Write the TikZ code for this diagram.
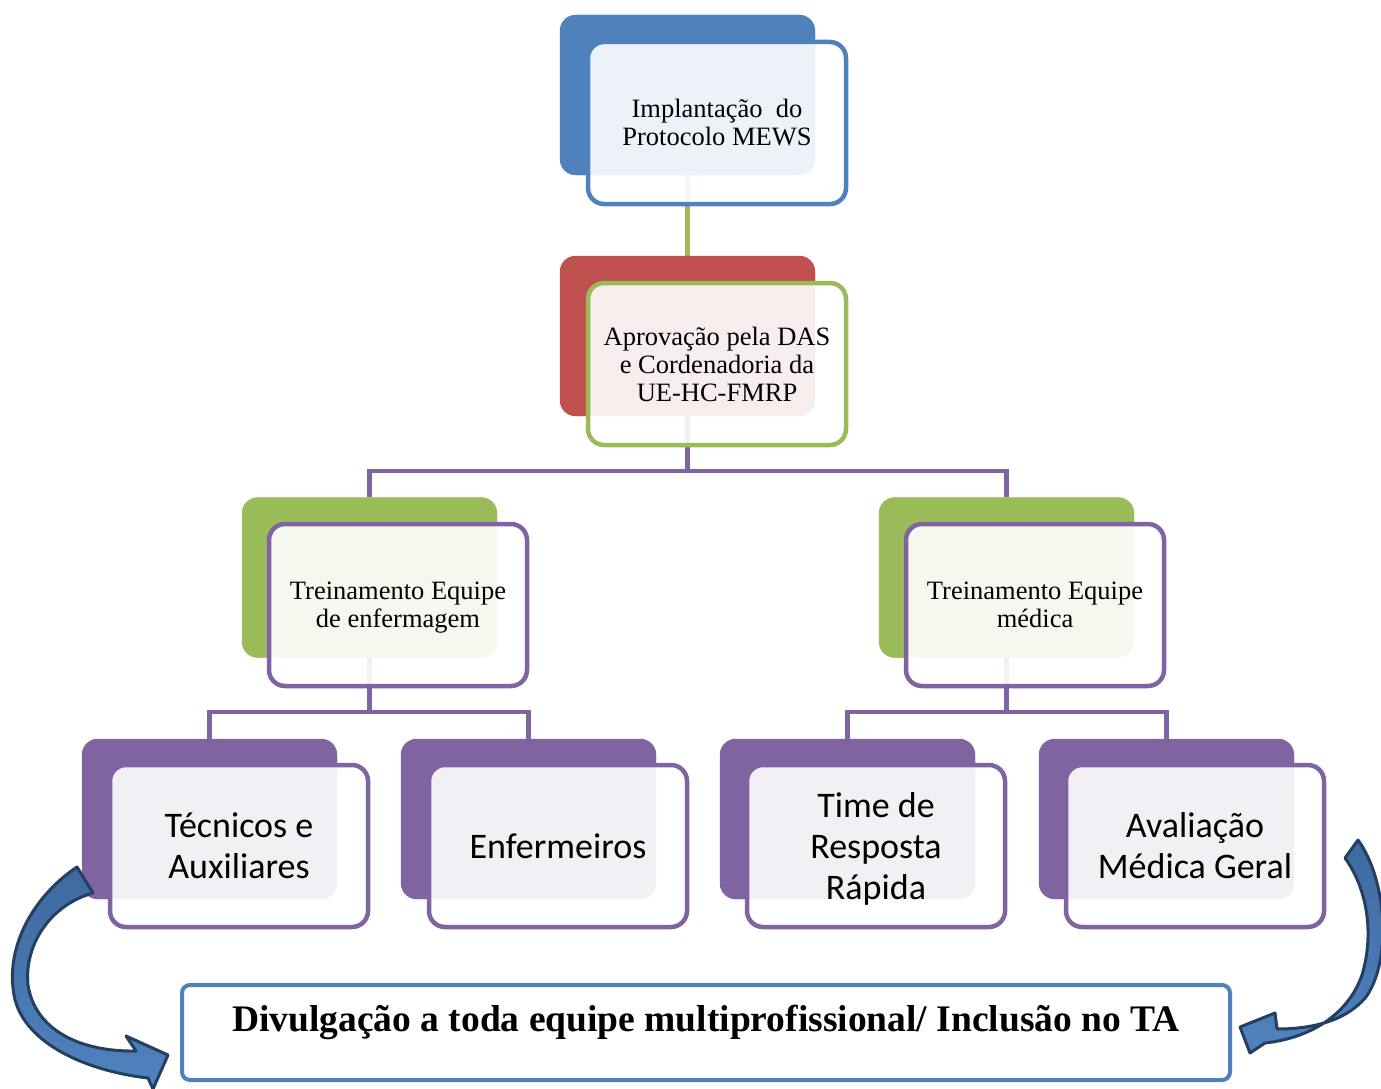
\documentclass[tikz,border=0pt]{standalone}
\usepackage{fontspec}
\setmainfont{Liberation Serif}
\newfontfamily\calibri{Carlito}
\definecolor{cblue}{HTML}{4F81BD}
\definecolor{cred}{HTML}{C0504D}
\definecolor{cgreen}{HTML}{9BBB59}
\definecolor{cpurple}{HTML}{8064A2}
\definecolor{arrowedge}{HTML}{243F60}
\definecolor{arrowtop}{HTML}{3D6A9E}
\definecolor{arrowbot}{HTML}{5183C0}
\tikzset{
  backbox/.style={rounded corners=16pt, minimum width=255pt, minimum height=160pt, inner sep=0pt, draw=none},
  frontbox/.style={rounded corners=16pt, line width=4.5pt, fill=white, fill opacity=0.9, text opacity=1, draw opacity=1,
    minimum width=258pt, minimum height=162pt, align=center, inner sep=0pt, text=black},
  serif/.style={font=\fontsize{26.5}{28}\selectfont},
  sans/.style={font=\calibri\fontsize{36}{41}\selectfont},
  conn/.style={line width=4.5pt},
  bigarrow/.style={draw=arrowedge, line width=3pt, top color=arrowtop, bottom color=arrowbot, line join=round},
}
\begin{document}
\begin{tikzpicture}[x=1pt,y=-1pt]
\useasboundingbox (0,0) rectangle (1381,1089);
\clip (0,0) rectangle (1381,1089);
% back boxes
\node[backbox, fill=cblue] (b1) at (687.5,95) {};
\node[backbox, fill=cred] (b2) at (687.5,336) {};
\node[backbox, fill=cgreen] (b3l) at (369.5,577.5) {};
\node[backbox, fill=cgreen] (b3r) at (1006.5,577.5) {};
\node[backbox, fill=cpurple] (b4a) at (209.5,819) {};
\node[backbox, fill=cpurple] (b4b) at (528.5,819) {};
\node[backbox, fill=cpurple] (b4c) at (847.5,819) {};
\node[backbox, fill=cpurple] (b4d) at (1166.5,819) {};
% connectors
\coordinate (j1) at (687.5,471);
\coordinate (j2) at (369.5,712);
\coordinate (j3) at (1006.5,712);
\draw[conn, draw=cgreen] (b1.center) -- (b2.north);
\draw[conn, draw=cpurple] (b2.center) -- (j1) -| (b3l.north);
\draw[conn, draw=cpurple] (j1) -| (b3r.north);
\draw[conn, draw=cpurple] (b3l.center) -- (j2) -| (b4a.north);
\draw[conn, draw=cpurple] (j2) -| (b4b.north);
\draw[conn, draw=cpurple] (b3r.center) -- (j3) -| (b4c.north);
\draw[conn, draw=cpurple] (j3) -| (b4d.north);
% redraw back boxes over connectors
\fill[cblue, rounded corners=16pt] (b1.south west) rectangle (b1.north east);
\fill[cred, rounded corners=16pt] (b2.south west) rectangle (b2.north east);
\fill[cgreen, rounded corners=16pt] (b3l.south west) rectangle (b3l.north east);
\fill[cgreen, rounded corners=16pt] (b3r.south west) rectangle (b3r.north east);
\fill[cpurple, rounded corners=16pt] (b4a.south west) rectangle (b4a.north east);
\fill[cpurple, rounded corners=16pt] (b4b.south west) rectangle (b4b.north east);
\fill[cpurple, rounded corners=16pt] (b4c.south west) rectangle (b4c.north east);
\fill[cpurple, rounded corners=16pt] (b4d.south west) rectangle (b4d.north east);
% front boxes
\node[frontbox, draw=cblue, serif] (f1) at (717,123) {Implantação\ \ do\\Protocolo MEWS};
\node[frontbox, draw=cgreen, serif] (f2) at (717,364) {Aprovação pela DAS\\e Cordenadoria da\\UE-HC-FMRP};
\node[frontbox, draw=cpurple, serif, text depth=0pt] (f3l) at (398,605) {Treinamento Equipe\\de enfermagem};
\node[frontbox, draw=cpurple, serif] (f3r) at (1035,605) {Treinamento Equipe\\médica};
\node[frontbox, draw=cpurple, sans] (f4a) at (239,846) {Técnicos e\\Auxiliares};
\node[frontbox, draw=cpurple, sans] (f4b) at (558,846) {Enfermeiros};
\node[frontbox, draw=cpurple, sans, text depth=0pt] (f4c) at (876,846) {Time de\\Resposta\\Rápida};
\node[frontbox, draw=cpurple, sans] (f4d) at (1195,846) {Avaliação\\Médica Geral};
% bottom box
\node[draw=cblue, line width=4pt, fill=white, rounded corners=8pt, minimum width=1048pt, minimum height=95pt,
  inner sep=0pt, text height=25pt, text depth=27pt, font=\bfseries\fontsize{37.5}{40}\selectfont] (div) at (706,1032.5)
  {Divulgação a toda equipe multiprofissional/ Inclusão no TA};
% curved block arrows
\path[bigarrow] (77,867) .. controls (35,895) and (5,945) .. (14,995)
  .. controls (22,1040) and (80,1070) .. (148,1078) -- (153,1089) -- (168,1055) -- (126,1036) -- (136,1051)
  .. controls (80,1052) and (35,1030) .. (28,985) .. controls (24,945) and (50,905) .. (93,893) -- cycle;
\path[bigarrow] (1358,840) .. controls (1387,880) and (1392,960) .. (1366,997)
  .. controls (1345,1022) and (1310,1029) .. (1277,1029) -- (1275,1013) -- (1240,1027) -- (1250,1053) -- (1265,1043)
  .. controls (1310,1038) and (1348,1015) .. (1362,975) .. controls (1374,935) and (1368,890) .. (1345,858) -- cycle;
\end{tikzpicture}
\end{document}
